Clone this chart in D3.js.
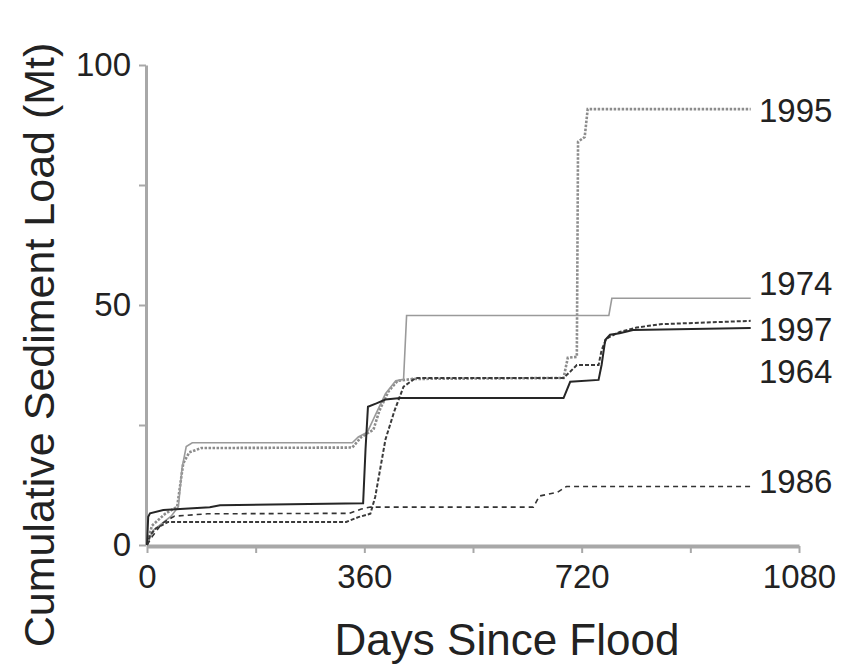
<!DOCTYPE html>
<html>
<head>
<meta charset="utf-8">
<style>
    body { margin: 0; background: #fff; }
    svg { display: block; }
    .tick text, .lbl { font-family: 'Liberation Sans', Arial, Helvetica, sans-serif; fill: #222; }
</style>
</head>
<body>
<svg width="854" height="669"></svg>

<script src="https://d3js.org/d3.v7.min.js"></script>
<script>
    // values: [day, Mt]
    const s1995 = [[0,0],[8,4],[30,6.5],[50,8],[60,17],[70,19.3],[90,20.2],[340,20.3],[355,22.5],[375,24],[385,28],[400,32],[415,34.2],[440,34.6],[690,34.8],[697,39],[712,39.2],[714,84],[725,85],[730,90.8],[1000,90.8]];
    const s1974 = [[0,0],[10,3],[40,6],[52,8],[58,16],[65,20.5],[75,21.3],[340,21.3],[350,22.5],[365,23.5],[378,27],[395,31.5],[412,34.2],[425,34.5],[430,47.8],[765,47.8],[770,51.4],[1000,51.4]];
    const s1997 = [[0,0],[5,2],[15,3.5],[35,4.8],[330,4.8],[350,5.8],[370,6.5],[378,10],[395,22],[410,28],[425,33],[445,34.8],[690,34.8],[700,36],[712,37.5],[748,37.5],[753,40.6],[761,43],[783,44.4],[811,45.3],[850,46],[1000,46.7]];
    const s1964 = [[0,0],[2,5.9],[5,6.6],[27,7.3],[104,7.85],[121,8.3],[358,8.7],[362,20],[366,28.8],[380,29.5],[395,30.3],[420,30.6],[690,30.6],[701,34],[748,34.4],[753,37.5],[759,42.7],[767,43.8],[783,44.1],[805,44.8],[1000,45.2]];
    const s1986 = [[0,0],[10,2],[25,4.5],[45,6],[100,6.5],[335,6.6],[355,7.5],[370,7.9],[640,7.9],[650,10.2],[680,11],[695,12.2],[1000,12.2]];

    const seriesNames = ["1995", "1974", "1997", "1964", "1986"];
    const seriesData = [s1995, s1974, s1997, s1964, s1986];
    const labelY = [90.6, 54.6, 45.0, 36.2, 13.3];   // where the year labels sit (Mt)

    const xTicks = [0, 180, 360, 540, 720, 900, 1080];
    const xLabels = [0, 360, 720, 1080];
    const yTicks = [0, 25, 50, 75, 100];
    const yLabels = [0, 50, 100];

    const styles = {
        "1995": { stroke: "#8c8c8c", width: 2.6, dash: "2.5,1.5" },
        "1974": { stroke: "#9a9a9a", width: 1.6, dash: null },
        "1997": { stroke: "#3a3a3a", width: 2, dash: "4,2" },
        "1964": { stroke: "#262626", width: 2, dash: null },
        "1986": { stroke: "#333", width: 1.6, dash: "5,4" }
    };

    let svg = d3.select("svg");

    let x = d3.scaleLinear().domain([0, 1080]).range([147, 799]);
    let y = d3.scaleLinear().domain([0, 100]).range([545, 65]);

    // axes
    let xAxis = svg.append("g")
        .attr("transform", "translate(0,546)")
        .call(d3.axisBottom(x)
            .tickValues(xTicks)
            .tickSize(7)
            .tickSizeOuter(0)
            .tickPadding(12)
            .tickFormat(d => xLabels.includes(d) ? d : ""));

    xAxis.select(".domain").attr("stroke", "#a8a8a8").attr("stroke-width", 4);
    xAxis.selectAll(".tick line").attr("stroke", "#a8a8a8").attr("stroke-width", 2);
    xAxis.selectAll(".tick text").attr("font-size", 33).attr("fill", "#222");

    let yAxis = svg.append("g")
        .attr("transform", "translate(146,0)")
        .call(d3.axisLeft(y)
            .tickValues(yTicks)
            .tickSize(7)
            .tickSizeOuter(0)
            .tickPadding(8)
            .tickFormat(d => yLabels.includes(d) ? d : ""));

    yAxis.select(".domain").attr("stroke", "#a8a8a8").attr("stroke-width", 3);
    yAxis.selectAll(".tick line").attr("stroke", "#a8a8a8").attr("stroke-width", 2);
    yAxis.selectAll(".tick text").attr("font-size", 33).attr("fill", "#222");

    // lines
    let line = d3.line()
        .x(d => x(d[0]))
        .y(d => y(d[1]));

    seriesNames.forEach((name, i) => {
        let st = styles[name];
        svg.append("path")
            .datum(seriesData[i])
            .attr("d", line)
            .attr("fill", "none")
            .attr("stroke", st.stroke)
            .attr("stroke-width", st.width)
            .attr("stroke-dasharray", st.dash)
            .attr("stroke-linejoin", "miter");

        svg.append("text")
            .attr("class", "lbl")
            .attr("x", 759)
            .attr("y", y(labelY[i]))
            .attr("dy", "0.36em")
            .attr("font-size", 33)
            .text(name);
    });

    // axis titles
    svg.append("text")
        .attr("class", "lbl")
        .attr("x", 507)
        .attr("y", 655)
        .attr("text-anchor", "middle")
        .attr("font-size", 44)
        .text("Days Since Flood");

    svg.append("text")
        .attr("class", "lbl")
        .attr("transform", "translate(54,345) rotate(-90)")
        .attr("text-anchor", "middle")
        .attr("font-size", 43)
        .text("Cumulative Sediment Load (Mt)");
</script>
</body>
</html>
